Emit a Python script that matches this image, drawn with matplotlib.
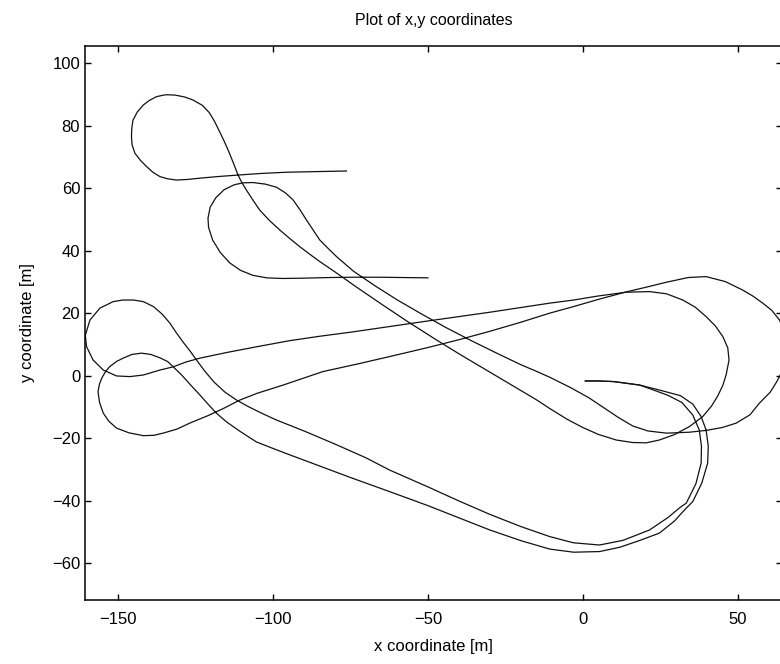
import matplotlib
matplotlib.use("Agg")
import matplotlib.pyplot as plt

plt.rcParams['font.family'] = ['Liberation Sans', 'DejaVu Sans']

# run A: upper-left loop -> inner right loop -> upper left loop -> inner bottom arc
run_a = [(-76.3, 65.6), (-86, 65.4), (-95.7, 65.2), (-104, 64.8), (-111.3, 64.3),
         (-118, 63.8), (-123.6, 63.3), (-127.5, 62.9), (-131.2, 62.7), (-134, 63.1),
         (-136.5, 63.8), (-138.8, 65.2), (-140.8, 67), (-142.8, 69), (-144.6, 71.3),
         (-145.5, 74), (-145.7, 76.6), (-145.6, 79.3), (-145.2, 81.9), (-143.8, 84.5),
         (-141.9, 86.7), (-139.9, 88.2), (-137.6, 89.4), (-134.7, 90), (-131.7, 89.9),
         (-128.6, 89.3), (-125.8, 88.3), (-122.8, 86.6), (-120.6, 84.3), (-118.9, 81.5),
         (-117.4, 78.5), (-115.8, 75.2), (-114.2, 71.6), (-112.7, 67.9), (-111.3, 64.3),
         (-110, 61.8), (-108.6, 59.5), (-106.5, 56.3), (-104.3, 53.1), (-101.2, 49.8),
         (-97.8, 46.7), (-94.6, 44), (-91.4, 41.4), (-88.2, 39), (-84.9, 36.6),
         (-80, 33.3), (-73, 28.4), (-65, 23), (-57, 17.7), (-48, 12), (-40, 7.1),
         (-31, 1.8), (-22, -3.5), (-15, -7.6), (-10.7, -10.4), (-5, -13.9), (0, -16.5),
         (5, -18.7), (10.8, -20.5), (16.1, -21.3), (20.5, -21.4), (24.7, -20.5),
         (29.5, -18.8), (34.4, -16.2), (38.7, -13), (41.5, -9.7), (43.5, -6.5),
         (45.2, -3), (46.3, 0.5), (47.2, 5.1), (46.8, 9), (45.2, 12.6), (42.8, 16),
         (39.8, 19), (36.3, 22), (32.3, 24.3), (27, 26.3), (21.5, 27), (14, 26.8),
         (5, 25.6), (-3, 24.3), (-10.7, 23.3), (-20, 21.9), (-30, 20.4), (-40, 19),
         (-50, 17.6), (-62.4, 15.8), (-75, 14), (-85, 12.7), (-94.6, 11.3), (-105, 9.4),
         (-115, 7.5), (-123.6, 5.7), (-128, 4.5), (-132.3, 2.9), (-136.5, 1.9),
         (-141.9, 0.3), (-146.2, -0.2), (-150.5, 0), (-154.8, 1.9), (-158.1, 5.1),
         (-160.2, 9.4), (-160.6, 13), (-159.1, 17.9), (-155.9, 21.7), (-151.6, 23.8),
         (-148.5, 24.3), (-145, 24.3), (-141.9, 23.8), (-138.6, 22.2), (-135.8, 19.8),
         (-133.3, 16.9), (-131.2, 13.8), (-129, 10.8), (-126.8, 8), (-124.7, 5.1),
         (-122, 1.5), (-119, -2), (-115.5, -5.2), (-111.8, -7.7), (-108, -9.8),
         (-103.5, -12), (-98.9, -14.1), (-90, -17.6), (-80, -21.8), (-70, -26.2),
         (-62.4, -30.1), (-50, -35.5), (-40, -40), (-30, -44.3), (-20, -48.2),
         (-10.7, -51.4), (-3, -53.4), (5.4, -54.1), (13, -52.6), (21.5, -49.3),
         (27.5, -45.3), (31.5, -42), (33.4, -40.7), (36.5, -34.5), (38.2, -27.9),
         (38.3, -22.5), (37.6, -17.3), (35.5, -12.5), (32, -8.5), (27.5, -6.2),
         (22, -4.2), (18.3, -2.9), (10, -1.8), (5, -1.6), (0.8, -1.6)]

# run B: middle-left loop -> outer right loop -> lower left loop -> outer bottom arc
run_b = [(-50, 31.4), (-58, 31.5), (-66, 31.6), (-74, 31.6), (-82, 31.5), (-90, 31.3),
         (-97, 31.2), (-102, 31.4), (-106.5, 32.2), (-110.5, 33.8), (-114, 36.2),
         (-117, 39.5), (-119.5, 43.5), (-120.8, 47.5), (-121, 50.5), (-120.3, 54),
         (-118.5, 57), (-115.8, 59.6), (-112.5, 61.2), (-109.7, 61.8), (-106.5, 61.9),
         (-102.5, 61.4), (-98.9, 60.4), (-96, 58.6), (-93.5, 56.3), (-91.3, 53.2),
         (-89.2, 49.9), (-87, 46.6), (-84.9, 43.5), (-82.2, 40.8), (-79.5, 38.2),
         (-74, 33.5), (-67, 28.8), (-60, 24.4), (-52, 19.8), (-44, 15.4), (-36, 11.3),
         (-28, 7.4), (-20, 3.6), (-15, 1.5), (-10.7, -0.4), (-4, -3.7), (2, -7),
         (7, -10.3), (11.5, -13.3), (16.1, -16), (21, -17.6), (27, -18.3), (34.4, -18),
         (40, -17.4), (45, -16.5), (49.5, -15.1), (54, -12.4), (57, -8.7), (60.5, -5.2),
         (62.5, -2), (63.5, -0.2), (65, 3.5), (66, 8), (65.6, 12.5), (63.5, 17.9),
         (61, 21), (58.1, 23.3), (55, 25.5), (51.6, 27.5), (46, 30.2), (39.8, 31.8),
         (34, 31.5), (27, 30), (20, 28.3), (14, 26.9), (5, 24.5), (-3, 22.2),
         (-10.7, 20.1), (-20, 17.2), (-30, 14.3), (-40, 11.6), (-50, 9.1), (-62.4, 6.2),
         (-72, 4), (-83.9, 1.4), (-97, -3), (-105, -5.5), (-110.7, -7.7), (-116, -10.4),
         (-121, -12.7), (-126.9, -15.1), (-131, -17), (-135.5, -18.3), (-138.5, -19),
         (-141.9, -19.1), (-146.5, -18.2), (-150.5, -16.7), (-153, -14.5),
         (-154.8, -11.9), (-156, -8.5), (-156.5, -5), (-156, -2.5), (-155.2, -0.5),
         (-154, 1.5), (-152.7, 3), (-150.6, 4.6), (-148.4, 5.7), (-145.5, 6.9),
         (-142.5, 7.3), (-139.5, 6.9), (-136.5, 5.8), (-134, 4.6), (-132.3, 3),
         (-129.5, 0.3), (-126.5, -3), (-123.5, -6.2), (-121, -9), (-118.3, -11.9),
         (-115, -14.7), (-111, -17.5), (-105.4, -21.1), (-100, -23.2), (-95, -25.1),
         (-85, -28.8), (-75, -32.5), (-62.4, -37), (-50, -41.5), (-40, -45.4),
         (-30, -49.3), (-20, -52.7), (-10.7, -55.4), (-3, -56.4), (5.4, -56.2),
         (12, -54.8), (18.5, -52.6), (24.7, -50.3), (29.5, -46.5), (33, -42.7),
         (35.5, -40.2), (38.4, -34.3), (40.3, -27.9), (40.5, -22.5), (39.8, -17.3),
         (38.2, -13), (35.5, -9), (31.5, -6.3), (24.7, -4.5), (18.3, -2.9), (10, -1.8),
         (5, -1.6), (0.8, -1.6)]

x_ticks = [-150, -100, -50, 0, 50]
y_ticks = [-60, -40, -20, 0, 20, 40, 60, 80, 100]

fig = plt.figure(figsize=(7.8, 6.64), dpi=100)
ax = fig.add_axes([85 / 780, 64 / 664, 697 / 780, 554 / 664])

for run in (run_a, run_b):
    xs, ys = zip(*run)
    ax.plot(xs, ys, color='#111111', lw=0.9)

ax.set_xlim(-160.7, 64.3)
ax.set_ylim(-71.7, 105.6)
ax.set_xticks(x_ticks)
ax.set_yticks(y_ticks)
ax.tick_params(direction='in', length=4, width=1, top=True, right=True,
               labelsize=12)
ax.tick_params(axis='x', pad=9)
ax.tick_params(axis='y', pad=3.5)
for s in ax.spines.values():
    s.set_linewidth(1.1)

ax.set_title('Plot of x,y coordinates', fontsize=11.5, pad=15)
ax.set_xlabel('x coordinate [m]', fontsize=12, labelpad=8)
ax.set_ylabel('y coordinate [m]', fontsize=12, labelpad=12)

fig.savefig('out.png', dpi=100, facecolor='white')
